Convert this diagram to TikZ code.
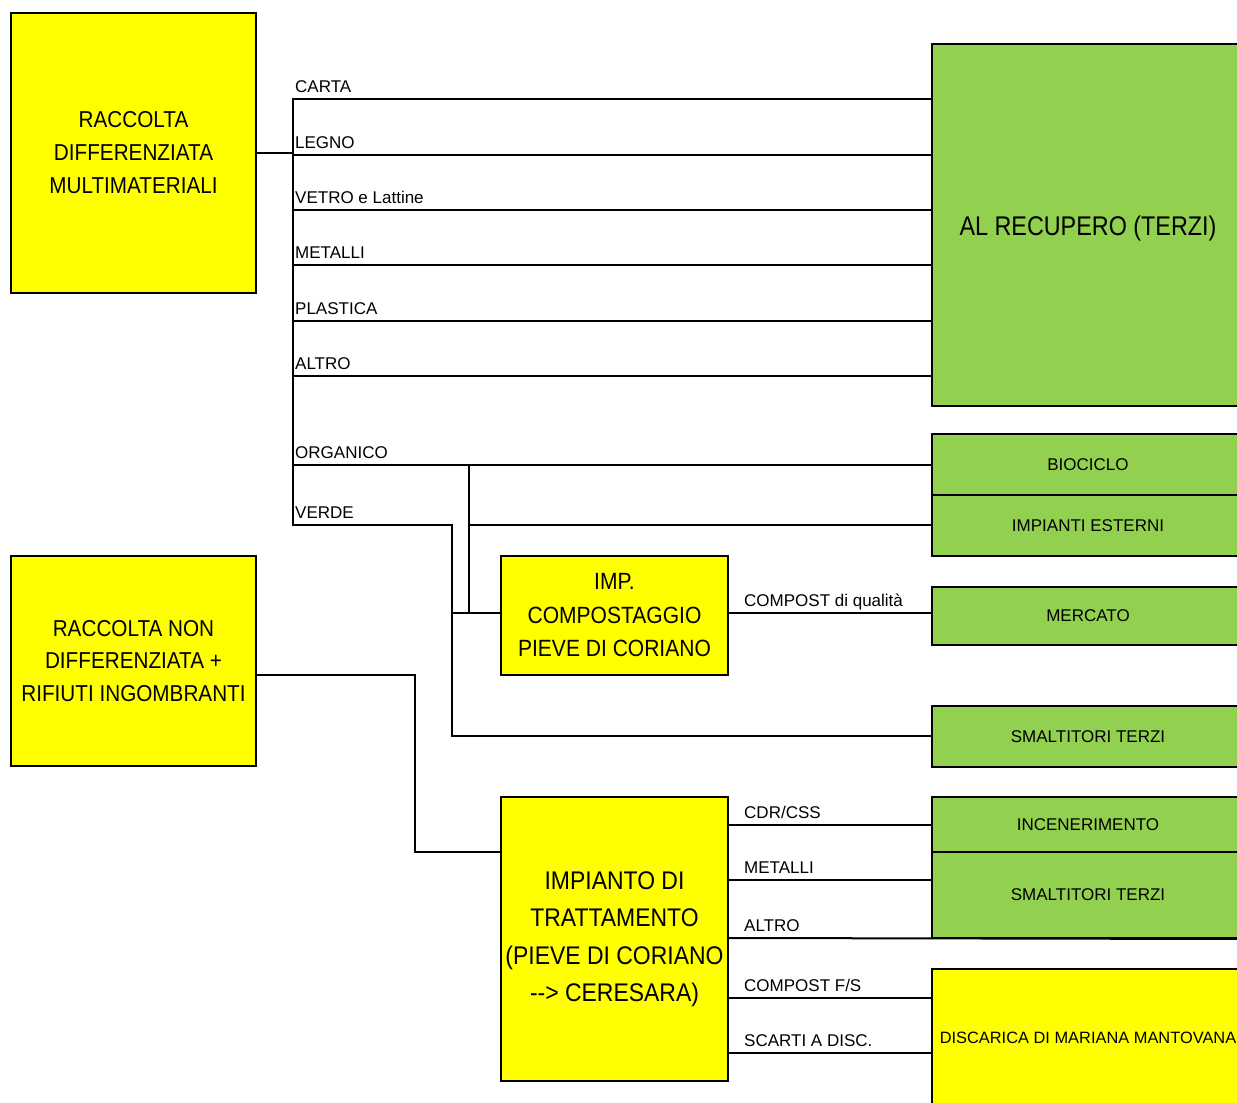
\documentclass[tikz,border=0pt]{standalone}
\usepackage{fontspec}
\setmainfont{Liberation Sans}
\newfontfamily\nA{Liberation Sans}[FakeStretch=0.90]
\newfontfamily\nB{Liberation Sans}[FakeStretch=0.895]
\newfontfamily\nC{Liberation Sans}[FakeStretch=0.90]
\newfontfamily\nD{Liberation Sans}[FakeStretch=0.865]
\definecolor{ygel}{HTML}{FFFF00}
\definecolor{gverde}{HTML}{92D050}
\begin{document}
\begin{tikzpicture}[x=1pt,y=-1pt,
  box/.style={draw=black,line width=2pt,inner sep=0pt,align=center},
  ybox/.style={box,fill=ygel},
  gbox/.style={box,fill=gverde,minimum width=312,font=\fontsize{17}{20}\selectfont},
  conn/.style={draw=black,line width=2pt},
  lbl/.style={anchor=base west,inner sep=0pt,font=\fontsize{17}{20}\selectfont}
]
\path[use as bounding box] (0,0) rectangle (1237,1103);
\clip (0,0) rectangle (1237,1103);
\fill[white] (0,0) rectangle (1237,1103);

% boxes
\node[ybox,minimum width=245,minimum height=280,font=\nA\fontsize{23}{33}\selectfont] (rdm) at (133.5,153) {RACCOLTA\\DIFFERENZIATA\\MULTIMATERIALI};
\node[ybox,minimum width=245,minimum height=210,font=\nA\fontsize{23}{32.5}\selectfont] (rnd) at (133.5,661) {RACCOLTA NON\\DIFFERENZIATA +\\RIFIUTI INGOMBRANTI};
\node[ybox,minimum width=227,minimum height=119,font=\nB\fontsize{23.5}{33.5}\selectfont] (comp) at (614.5,615.5) {IMP.\\COMPOSTAGGIO\\PIEVE DI CORIANO};
\node[ybox,minimum width=227,minimum height=284,font=\nC\fontsize{25.5}{37.5}\selectfont] (imp) at (614.5,939) {IMPIANTO DI\\TRATTAMENTO\\(PIEVE DI CORIANO\\--> CERESARA)};

\node[gbox,minimum height=362,text height=21.5pt,text depth=0pt,font=\nD\fontsize{27}{32}\selectfont] (rec) at (1088,225) {AL RECUPERO (TERZI)};
\node[gbox,minimum height=61] (bio) at (1088,464.5) {BIOCICLO};
\node[gbox,minimum height=61] (ie) at (1088,525.5) {IMPIANTI ESTERNI};
\node[gbox,minimum height=58] (merc) at (1088,616) {MERCATO};
\node[gbox,minimum height=61] (smt1) at (1088,736.5) {SMALTITORI TERZI};
\node[gbox,minimum height=55] (inc) at (1088,824.5) {INCENERIMENTO};
\node[gbox,minimum height=86] (smt2) at (1088,895) {SMALTITORI TERZI};
\node[ybox,minimum width=312,minimum height=138,font=\fontsize{16.4}{20}\selectfont] (disc) at (1088,1038) {DISCARICA DI MARIANA MANTOVANA};

% connectors: differenziata
\coordinate (bT) at (293,99);
\draw[conn] (rec.west |- bT) -- (bT) -- (293,525) -- (452,525) -- (452,736) -- (smt1.west |- 0,736);
\draw[conn] (rdm.east) -- (rdm.east -| bT);
\node[lbl] at (295,92.5) {CARTA};
\foreach \y/\t in {155/LEGNO,210/VETRO e Lattine,265/METALLI,321/PLASTICA,376/ALTRO}{
  \draw[conn] (293,\y) -- (rec.west |- 0,\y);
  \node[lbl] at (295,\y-6.5) {\t};
}
\draw[conn] (293,465) -- (bio.west |- 0,465);
\node[lbl] at (295,458.5) {ORGANICO};
\node[lbl] at (295,518.5) {VERDE};
\draw[conn] (469,465) -- (469,613);
\draw[conn] (469,525) -- (ie.west |- 0,525);
\draw[conn] (452,613) -- (comp.west |- 0,613);
\draw[conn] (comp.east |- 0,613) -- (merc.west |- 0,613);
\node[lbl] at (744,606.5) {COMPOST di qualità};

% connectors: non differenziata
\draw[conn] (rnd.east |- 0,675) -- (415,675) -- (415,852) -- (imp.west |- 0,852);
\draw[conn] (imp.east |- 0,825) -- (inc.west |- 0,825);
\node[lbl] at (744,818.5) {CDR/CSS};
\draw[conn] (imp.east |- 0,880) -- (smt2.west |- 0,880);
\node[lbl] at (744,873.5) {METALLI};
\draw[conn] (imp.east |- 0,938) -- (smt2.south east);
\node[lbl] at (744,931.5) {ALTRO};
\draw[conn] (imp.east |- 0,998) -- (disc.west |- 0,998);
\node[lbl] at (744,991.5) {COMPOST F/S};
\draw[conn] (imp.east |- 0,1053) -- (disc.west |- 0,1053);
\node[lbl] at (744,1046.5) {SCARTI A DISC.};
\end{tikzpicture}
\end{document}
